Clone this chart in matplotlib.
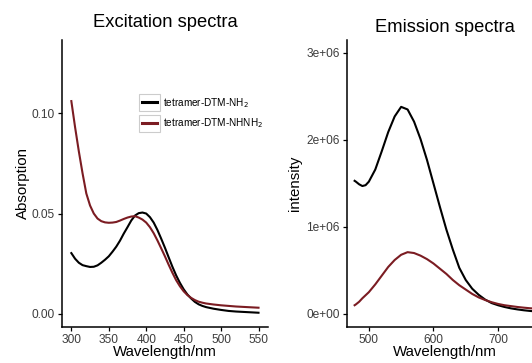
import numpy as np
import matplotlib
matplotlib.use("Agg")
import matplotlib.pyplot as plt
from matplotlib.patches import Rectangle

plt.rcParams['font.family'] = ['Liberation Sans', 'DejaVu Sans']

# excitation spectra (absorption)
exc_wl = [300, 305, 310, 315, 320, 325, 330, 335, 340, 345, 350, 355, 360, 365, 370, 375,
          380, 385, 390, 395, 400, 405, 410, 415, 420, 425, 430, 435, 440, 445, 450, 455,
          460, 465, 470, 475, 480, 490, 500, 510, 520, 530, 540, 550]
exc_nh2 = [0.0303, 0.0275, 0.0255, 0.0243, 0.0238, 0.0234, 0.0235, 0.0242, 0.0255, 0.0270,
           0.0287, 0.0310, 0.0335, 0.0365, 0.0400, 0.0432, 0.0465, 0.0490, 0.0502, 0.0505,
           0.0500, 0.0482, 0.0455, 0.0418, 0.0375, 0.0330, 0.0282, 0.0235, 0.0192, 0.0155,
           0.0123, 0.0097, 0.0077, 0.0060, 0.0048, 0.0040, 0.0034, 0.0026, 0.0020, 0.0015,
           0.0012, 0.0010, 0.0008, 0.0006]
exc_nhnh2 = [0.1060, 0.0930, 0.0810, 0.0700, 0.0600, 0.0540, 0.0500, 0.0475, 0.0462, 0.0456,
             0.0454, 0.0455, 0.0458, 0.0465, 0.0473, 0.0480, 0.0485, 0.0487, 0.0480, 0.0470,
             0.0455, 0.0432, 0.0402, 0.0366, 0.0327, 0.0287, 0.0245, 0.0205, 0.0168, 0.0138,
             0.0113, 0.0094, 0.0080, 0.0069, 0.0061, 0.0056, 0.0052, 0.0047, 0.0043, 0.0040,
             0.0037, 0.0035, 0.0033, 0.0031]

# emission spectra (intensity)
em_wl = [478, 480, 485, 490, 495, 500, 510, 520, 530, 540, 550, 560, 570, 580, 590, 600,
         610, 620, 630, 640, 650, 660, 670, 680, 690, 700, 710, 720, 730, 740, 750, 755]
em_nh2 = [1.53e6, 1.52e6, 1.49e6, 1.47e6, 1.48e6, 1.52e6, 1.66e6, 1.87e6, 2.09e6, 2.27e6,
          2.38e6, 2.35e6, 2.21e6, 2.01e6, 1.77e6, 1.50e6, 1.23e6, 0.97e6, 0.74e6, 0.53e6,
          0.39e6, 0.29e6, 0.22e6, 0.165e6, 0.125e6, 0.10e6, 0.08e6, 0.064e6, 0.052e6,
          0.042e6, 0.034e6, 0.031e6]
em_nhnh2 = [0.10e6, 0.11e6, 0.14e6, 0.18e6, 0.215e6, 0.25e6, 0.34e6, 0.44e6, 0.54e6,
            0.62e6, 0.68e6, 0.71e6, 0.70e6, 0.67e6, 0.63e6, 0.58e6, 0.52e6, 0.46e6, 0.39e6,
            0.33e6, 0.28e6, 0.23e6, 0.19e6, 0.16e6, 0.135e6, 0.115e6, 0.10e6, 0.09e6,
            0.08e6, 0.072e6, 0.065e6, 0.063e6]

labels = ['tetramer-DTM-NH$_2$', 'tetramer-DTM-NHNH$_2$']
black = 'black'
red = '#7B1C22'
tickgrey = '#3D3D3D'

fig = plt.figure(figsize=(5.32, 3.63), dpi=100)
ax1 = fig.add_axes([0.1165, 0.0992, 0.387, 0.791])
ax2 = fig.add_axes([0.652, 0.0992, 0.368, 0.791])

for ax in (ax1, ax2):
    for s in ('top', 'right'):
        ax.spines[s].set_visible(False)
    for s in ('left', 'bottom'):
        ax.spines[s].set_linewidth(1.1)
    ax.tick_params(labelsize=8.6, labelcolor=tickgrey, length=3, width=0.9, pad=2)

l1, = ax1.plot(exc_wl, exc_nh2, color=black, lw=1.5, label=labels[0])
l2, = ax1.plot(exc_wl, exc_nhnh2, color=red, lw=1.5, label=labels[1])
ax1.set_xlim(287.5, 562.5)
ax1.set_ylim(-0.0065, 0.1365)
ax1.set_xticks([300, 350, 400, 450, 500, 550])
ax1.set_yticks([0.0, 0.05, 0.10])
ax1.set_yticklabels(['0.00', '0.05', '0.10'])
ax1.set_xlabel('Wavelength/nm', fontsize=10.8, labelpad=-1)
ax1.set_ylabel('Absorption', fontsize=10.8, labelpad=1.5)
ax1.set_title('Excitation spectra', fontsize=13.2, pad=9)

ax2.plot(em_wl, em_nh2, color=black, lw=1.5)
ax2.plot(em_wl, em_nhnh2, color=red, lw=1.5)
ax2.set_xlim(466, 769)
ax2.set_ylim(-0.15e6, 3.15e6)
ax2.set_xticks([500, 600, 700])
ax2.set_yticks([0, 1e6, 2e6, 3e6])
ax2.set_yticklabels(['0e+00', '1e+06', '2e+06', '3e+06'])
ax2.set_xlabel('Wavelength/nm', fontsize=10.8, labelpad=-1)
ax2.set_ylabel('intensity', fontsize=10.8, labelpad=3)
ax2.set_title('Emission spectra', fontsize=13.2, pad=6)

leg = ax1.legend(handles=[l1, l2], loc='upper left', bbox_to_anchor=(0.39, 0.805),
                 frameon=False, fontsize=7.2, handlelength=1.5, handletextpad=0.55,
                 labelspacing=0.7, borderpad=0, borderaxespad=0)
for h in leg.legend_handles:
    h.set_linewidth(2.2)

# grey key boxes like ggplot
fig.canvas.draw()
for h in leg.legend_handles:
    bb = h.get_window_extent()
    cy = (bb.y0 + bb.y1) / 2
    x0, x1 = bb.x0 - 3, bb.x1 + 3
    w, hh = x1 - x0, 17
    r = Rectangle((x0, cy - hh / 2), w, hh, transform=None, fill=False,
                  edgecolor='#CCCCCC', lw=0.8, zorder=1)
    fig.patches.append(r)

fig.savefig('out.png', dpi=100)
